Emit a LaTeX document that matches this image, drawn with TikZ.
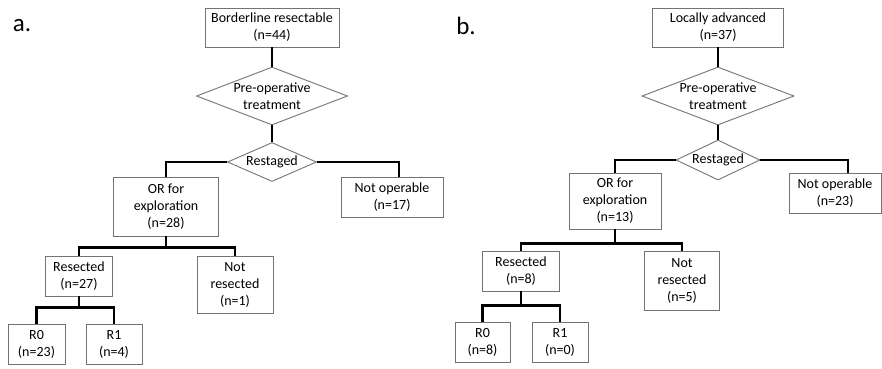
\documentclass[tikz,border=0pt]{standalone}
\usepackage{fontspec}
\setmainfont{Carlito}
\usetikzlibrary{shapes.geometric}

\begin{document}
\begin{tikzpicture}[
    x=1pt, y=-1pt,
    font=\fontsize{14}{17}\selectfont,
    box/.style={rectangle, draw=black!55, line width=0.9pt, inner sep=0pt, align=center},
    decision/.style={diamond, draw=black!55, line width=0.9pt, inner sep=0pt},
    link/.style={draw=black, line width=2.2pt},
    panel/.style={font=\fontsize{25}{30}\selectfont}
]
    \useasboundingbox (0,0) rectangle (882,368);

    % Panel letters
    \node[panel] (lab-a) at (22,26) {a.};
    \node[panel] (lab-b) at (466,26) {b.};

    % Draw the nodes of panel a
    \node[box, minimum width=134pt, minimum height=39pt] (A-top) at (272,27.5) {Borderline resectable\\(n=44)};
    \node[decision, minimum width=151pt, minimum height=58pt,
          label={[align=center]center:Pre-operative\\treatment}] (A-pre) at (272,96) {};
    \node[decision, minimum width=89pt, minimum height=39pt,
          label={center:Restaged}] (A-rest) at (272,162) {};
    \node[box, minimum width=105pt, minimum height=59pt] (A-or) at (166,206.5) {OR for\\exploration\\(n=28)};
    \node[box, minimum width=102pt, minimum height=40pt] (A-nop) at (392,197) {Not operable\\(n=17)};
    \node[box, minimum width=67pt, minimum height=40pt] (A-res) at (79,276) {Resected\\(n=27)};
    \node[box, minimum width=76pt, minimum height=57pt] (A-nres) at (235,284.5) {Not\\resected\\(n=1)};
    \node[box, minimum width=57pt, minimum height=40pt] (A-r0) at (36.5,344) {R0\\(n=23)};
    \node[box, minimum width=56pt, minimum height=40pt] (A-r1) at (114,344) {R1\\(n=4)};

    % Draw the nodes of panel b
    \node[box, minimum width=131pt, minimum height=39pt] (B-top) at (718,27.5) {Locally advanced\\(n=37)};
    \node[decision, minimum width=152pt, minimum height=58pt,
          label={[align=center]center:Pre-operative\\treatment}] (B-pre) at (718,96) {};
    \node[decision, minimum width=84pt, minimum height=40pt,
          label={center:Restaged}] (B-rest) at (718,160) {};
    \node[box, minimum width=92pt, minimum height=56pt] (B-or) at (615,201) {OR for\\exploration\\(n=13)};
    \node[box, minimum width=92pt, minimum height=40pt] (B-nop) at (835,193) {Not operable\\(n=23)};
    \node[box, minimum width=77pt, minimum height=40pt] (B-res) at (521,271) {Resected\\(n=8)};
    \node[box, minimum width=75pt, minimum height=59pt] (B-nres) at (682,280.5) {Not\\resected\\(n=5)};
    \node[box, minimum width=55pt, minimum height=40pt] (B-r0) at (482.5,342) {R0\\(n=8)};
    \node[box, minimum width=56pt, minimum height=40pt] (B-r1) at (560,342) {R1\\(n=0)};

    % Connect the nodes of panel a
    \draw[link] (A-top) -- (A-pre);
    \draw[link] (A-pre) -- (A-rest);
    \draw[link] (A-or.north) |- (A-rest.west);
    \draw[link] (A-rest.east) -| ([xshift=7pt]A-nop.north);
    \path (A-or.south) ++(0,11) coordinate (A-fork1);
    \draw[link] (A-or.south) -- (A-fork1);
    \draw[link] (A-res.north) |- (A-fork1) -| (A-nres.north);
    \path (A-res.south) ++(0,11) coordinate (A-fork2);
    \draw[link] (A-res.south) -- (A-fork2);
    \draw[link] (A-r0.north) |- (A-fork2) -| (A-r1.north);

    % Connect the nodes of panel b
    \draw[link] (B-top) -- (B-pre);
    \draw[link] (B-pre) -- (B-rest);
    \draw[link] (B-or.north) |- (B-rest.west);
    \draw[link] (B-rest.east) -| ([xshift=13pt]B-nop.north);
    \path (B-or.south) ++(0,14) coordinate (B-fork1);
    \draw[link] (B-or.south) -- (B-fork1);
    \draw[link] (B-res.north) |- (B-fork1) -| (B-nres.north);
    \path (B-res.south) ++(0,14) coordinate (B-fork2);
    \draw[link] (B-res.south) -- (B-fork2);
    \draw[link] (B-r0.north) |- (B-fork2) -| (B-r1.north);
\end{tikzpicture}
\end{document}
